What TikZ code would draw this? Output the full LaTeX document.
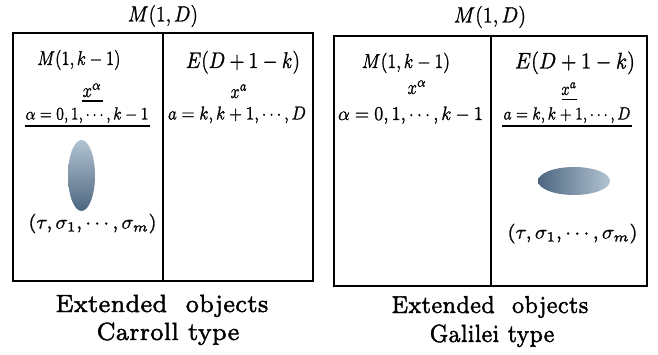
\documentclass[tikz,border=0pt]{standalone}
\usepackage{fix-cm}
\usepackage{graphicx}
\definecolor{ellLight}{RGB}{178,196,210}
\definecolor{ellDark}{RGB}{78,102,128}
\newcommand{\boldon}{\special{pdf:literal direct 2 Tr 0.12 w}}
\newcommand{\boldoff}{\special{pdf:literal direct 0 Tr}}
% #1 width, #2 height above baseline (both in px = pt)
\newcommand{\rs}[3]{\resizebox{#1pt}{#2pt}{\fontsize{10}{12}\selectfont\boldon #3\boldoff}}
\newcommand{\rsT}[3]{\resizebox{#1pt}{#2pt}{\fontsize{7}{8}\selectfont\boldon #3\boldoff}}
\tikzset{
  frame/.style={line width=2.8pt},
  uline/.style={line width=1.1pt},
  lbl/.style={anchor=base, inner sep=0pt},
}
\begin{document}
\begin{tikzpicture}[x=1pt,y=-1pt]
\useasboundingbox (0,0) rectangle (658,355);
% ---------- left diagram ----------
\node[lbl] (tL) at (163,21.5) {\rs{70}{16.5}{$M(1,D)$}};
\draw[frame] (13,33) rectangle (313,281);
\draw[frame] (163,33) -- (163,281);
\node[lbl] (mL) at (79,65) {\rs{83}{15}{$M(1,k-1)$}};
\node[lbl] (eL) at (243,68) {\rs{114}{17}{$E(D+1-k)$}};
\node[lbl] (xaL) at (92,97) {\rs{19}{13.5}{$x^{\alpha}$}};
\node[lbl] (alL) at (87,119.5) {\rs{123}{12.2}{$\alpha=0,1,\cdots,k-1$}};
\node[lbl] (xbL) at (239,98) {\rs{17}{13.5}{$x^{a}$}};
\node[lbl] (aL) at (237,119.5) {\rs{138}{13}{$a=k,k+1,\cdots,D$}};
\draw[uline] (82,101) -- (103,101);
\draw[uline] (25,126) -- (150,126);
\shade[top color=ellLight, bottom color=ellDark] (81.5,175.5) ellipse [x radius=13.5, y radius=35.5];
\node[lbl] (sL) at (92.5,228.5) {\rs{128}{14.8}{$(\tau,\sigma_1,\cdots,\sigma_m)$}};
\node[lbl] (c1L) at (162,312) {\rsT{213}{17.3}{Extended\ \ objects}};
\node[lbl] (c2L) at (168,340) {\rsT{143}{17.5}{Carroll type}};
% ---------- right diagram ----------
\node[lbl] (tR) at (490,22.5) {\rs{72}{16.5}{$M(1,D)$}};
\draw[frame] (334,36) rectangle (647,286);
\draw[frame] (491,36) -- (491,286);
\node[lbl] (mR) at (406,68) {\rs{88}{15.2}{$M(1,k-1)$}};
\node[lbl] (eR) at (575,68.5) {\rs{120}{17}{$E(D+1-k)$}};
\node[lbl] (xaR) at (417,94) {\rs{19}{13.5}{$x^{\alpha}$}};
\node[lbl] (alR) at (410.5,120) {\rs{145}{13.5}{$\alpha=0,1,\cdots,k-1$}};
\node[lbl] (xbR) at (569,95) {\rs{15.5}{12.5}{$x^{a}$}};
\node[lbl] (aR) at (567,119.5) {\rs{127}{12.2}{$a=k,k+1,\cdots,D$}};
\draw[uline] (562,99.5) -- (577,99.5);
\draw[uline] (502,126) -- (632,126);
\shade[left color=ellDark, right color=ellLight] (574,181) ellipse [x radius=36, y radius=14];
\node[lbl] (sR) at (572.5,238.5) {\rs{130}{14.8}{$(\tau,\sigma_1,\cdots,\sigma_m)$}};
\node[lbl] (c1R) at (490,313) {\rsT{197}{17}{Extended\ \ objects}};
\node[lbl] (c2R) at (492,342) {\rsT{125}{17.5}{Galilei type}};
\end{tikzpicture}
\end{document}
